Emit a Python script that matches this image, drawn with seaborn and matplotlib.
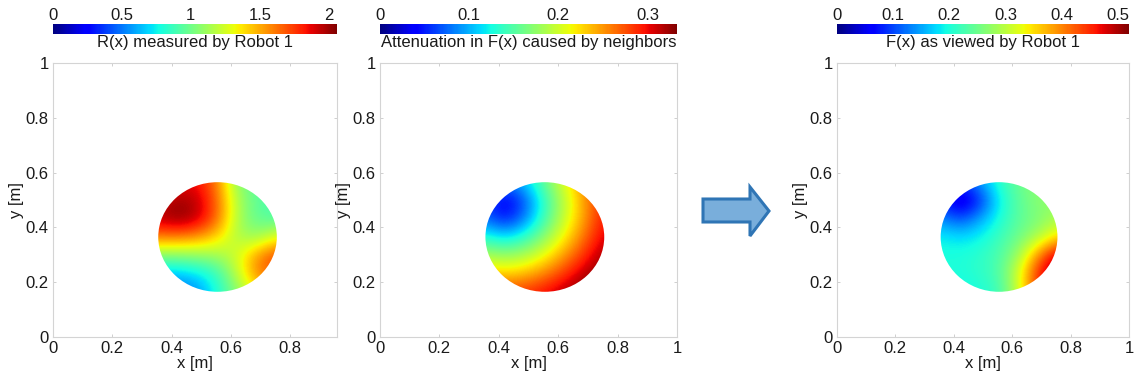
import numpy as np
import matplotlib
matplotlib.use("Agg")
import matplotlib.pyplot as plt
from matplotlib.patches import Circle, Polygon
import seaborn as sns

# Sample nodes of the fields inside the sensing disk
x_nodes = [0.355, 0.422, 0.488, 0.555, 0.622, 0.688, 0.755]
y_nodes = [0.565, 0.498, 0.432, 0.365, 0.298, 0.232, 0.165]   # top to bottom
disk_center = (0.555, 0.365)
disk_radius = 0.2

# R(x) measured by Robot 1
R_values = [
    [1.75, 1.85, 1.85, 1.60, 1.05, 0.95, 0.90],
    [1.90, 2.00, 1.95, 1.65, 1.15, 0.95, 0.90],
    [1.95, 2.05, 1.95, 1.65, 1.15, 0.95, 0.92],
    [1.60, 1.60, 1.55, 1.40, 1.15, 1.10, 1.30],
    [1.05, 1.05, 1.08, 1.12, 1.25, 1.55, 1.75],
    [0.65, 0.65, 0.72, 0.85, 1.20, 1.60, 1.70],
    [0.45, 0.48, 0.55, 0.80, 1.05, 1.35, 1.45],
]

# Attenuation in F(x) caused by neighbors
attenuation_values = [
    [0.107, 0.084, 0.109, 0.158, 0.205, 0.255, 0.302],
    [0.064, 0.029, 0.067, 0.136, 0.192, 0.245, 0.295],
    [0.079, 0.044, 0.082, 0.143, 0.196, 0.248, 0.297],
    [0.132, 0.115, 0.134, 0.172, 0.216, 0.263, 0.308],
    [0.185, 0.176, 0.185, 0.211, 0.248, 0.287, 0.322],
    [0.235, 0.228, 0.236, 0.256, 0.284, 0.315, 0.335],
    [0.285, 0.280, 0.286, 0.300, 0.318, 0.335, 0.340],
]

# F(x) as viewed by Robot 1
F_values = [
    [0.14, 0.09, 0.15, 0.21, 0.25, 0.27, 0.27],
    [0.08, 0.02, 0.08, 0.19, 0.24, 0.27, 0.27],
    [0.14, 0.10, 0.15, 0.20, 0.24, 0.26, 0.29],
    [0.19, 0.18, 0.19, 0.22, 0.25, 0.29, 0.35],
    [0.20, 0.20, 0.21, 0.23, 0.28, 0.40, 0.50],
    [0.20, 0.20, 0.21, 0.23, 0.32, 0.46, 0.53],
    [0.19, 0.19, 0.20, 0.22, 0.31, 0.45, 0.52],
]

titles = ["R(x) measured by Robot 1",
          "Attenuation in F(x) caused by neighbors",
          "F(x) as viewed by Robot 1"]
color_limits = [(0, 2.06), (0, 0.333), (0, 0.52)]
color_ticks = [[0, 0.5, 1, 1.5, 2],
               [0, 0.1, 0.2, 0.3],
               [0, 0.1, 0.2, 0.3, 0.4, 0.5]]
axis_ticks = [0, 0.2, 0.4, 0.6, 0.8, 1]
x_limits = [(0, 0.958), (0, 1), (0, 1)]

sns.set_theme(style="white")
plt.rcParams["font.family"] = ["Liberation Sans", "DejaVu Sans"]
plt.rcParams["text.color"] = "#1a1a1a"
plt.rcParams["axes.labelcolor"] = "#1a1a1a"
plt.rcParams["xtick.color"] = "#1a1a1a"
plt.rcParams["ytick.color"] = "#1a1a1a"

cmap = matplotlib.colormaps["jet"]
FS = 12

W, H = 1135, 381
fig = plt.figure(figsize=(W / 100, H / 100), dpi=100)


def rect(left, top, right, bottom):
    return [left / W, 1 - bottom / H, (right - left) / W, (bottom - top) / H]


# pixel extents of the three panels (left, right)
panel_px = [(53, 337), (380, 677), (837, 1129)]
fields = [R_values, attenuation_values, F_values]


def fmt(v):
    return f"{v:g}"


half = (x_nodes[1] - x_nodes[0]) / 2
extent = [x_nodes[0] - half, x_nodes[-1] + half,
          y_nodes[-1] - half, y_nodes[0] + half]

for i, (field, (l, r)) in enumerate(zip(fields, panel_px)):
    ax = fig.add_axes(rect(l, 63, r, 337))
    ax.set_facecolor("white")
    vmin, vmax = color_limits[i]
    im = ax.imshow(np.array(field), cmap=cmap, vmin=vmin, vmax=vmax,
                   extent=extent, origin="upper", interpolation="bicubic",
                   aspect="auto")
    im.set_clip_path(Circle(disk_center, disk_radius, transform=ax.transData))
    ax.set_xticks(axis_ticks)
    ax.set_xticklabels([fmt(t) for t in axis_ticks])
    ax.set_yticks(axis_ticks)
    ax.set_yticklabels([fmt(t) for t in axis_ticks])
    ax.set_xlim(*x_limits[i])
    ax.set_ylim(0, 1)
    ax.tick_params(direction="in", length=2, width=0.6, color="#c8c8c8",
                   labelsize=FS, pad=3, bottom=True, left=True, top=True, right=True,
                   labeltop=False, labelright=False)
    for s in ax.spines.values():
        s.set_color("#d4d4d4")
        s.set_linewidth(0.8)
    ax.set_xlabel("x [m]", fontsize=FS, labelpad=0)
    ax.set_ylabel("y [m]", fontsize=FS, labelpad=1)

    cax = fig.add_axes(rect(l, 24, r, 34))
    cb = fig.colorbar(im, cax=cax, orientation="horizontal")
    cb.outline.set_visible(False)
    cb.set_ticks(color_ticks[i])
    cb.set_ticklabels([fmt(t) for t in color_ticks[i]])
    cax.xaxis.set_ticks_position("top")
    cax.tick_params(length=0, pad=1, labelsize=FS)
    cax.xaxis.set_label_position("bottom")
    cax.set_xlabel(titles[i], fontsize=FS, labelpad=1)

# block arrow between the attenuation map and the result
arrow_px = [(703, 199), (750, 199), (750, 187), (769, 211),
            (750, 236), (750, 222), (703, 222)]
arrow_pts = [(x / W, 1 - y / H) for x, y in arrow_px]
fig.patches.append(Polygon(arrow_pts, closed=True, transform=fig.transFigure,
                           facecolor="#79aedb", edgecolor="#2f75b5",
                           linewidth=2.2, joinstyle="miter"))

fig.savefig("out.png", dpi=100)
